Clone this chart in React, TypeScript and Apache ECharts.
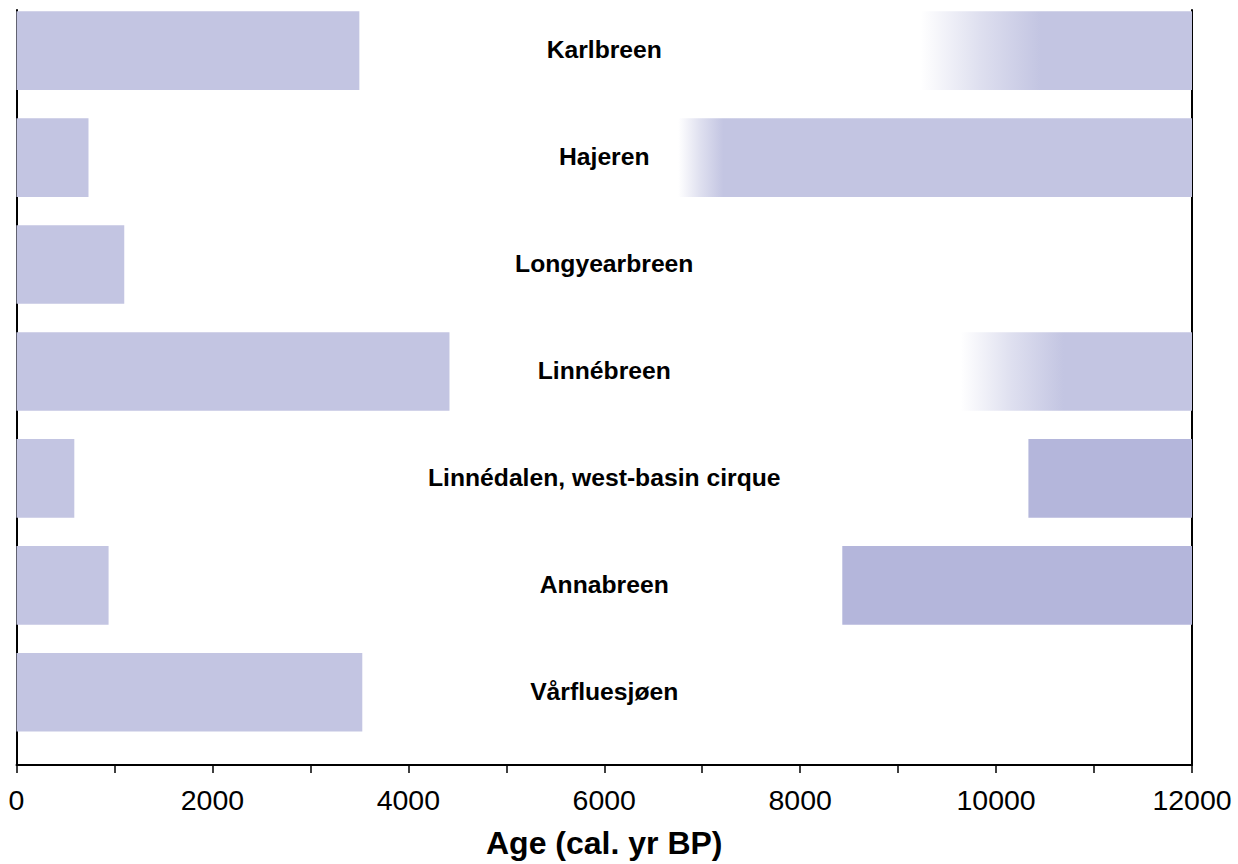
import React, { useEffect, useRef } from "react";
import * as echarts from "echarts";

const sites = [
  "Karlbreen",
  "Hajeren",
  "Longyearbreen",
  "Linnébreen",
  "Linnédalen, west-basin cirque",
  "Annabreen",
  "Vårfluesjøen",
];
// Late-Holocene glacier presence: from 0 to this age (cal. yr BP)
const recentEnd = [3500, 735, 1100, 4420, 590, 940, 3530];
// Early-Holocene / deglacial presence: fade start, solid start, up to axis max
const earlyFadeStart: (number | null)[] = [9230, 6755, null, 9640, null, null, null];
const earlySolidStart: (number | null)[] = [10450, 7215, null, 10690, 10330, 8430, null];
const earlyShade: (number | null)[] = [0, 0, null, 0, 1, 1, null];
const xTicks = [0, 2000, 4000, 6000, 8000, 10000, 12000];
const ageMax = 12000;
const labelAge = 6000;

const COLORS = ["#c3c5e2", "#b4b6db"];

export default function App() {
  const ref = useRef<HTMLDivElement>(null);
  useEffect(() => {
    if (!ref.current) return;
    const chart = echarts.init(ref.current, undefined, { renderer: "svg" });

    // segments: [start, end, row, solidStart, shade]
    const segments: number[][] = [];
    sites.forEach((_, i) => {
      segments.push([0, recentEnd[i], i, 0, 0]);
      const solid = earlySolidStart[i];
      if (solid != null) {
        const fade = earlyFadeStart[i];
        segments.push([fade != null ? fade : solid, ageMax, i, solid, earlyShade[i] as number]);
      }
    });
    const labels = sites.map((s, i) => [labelAge, i]);

    const yAxisBase = {
      type: "value",
      min: -0.38,
      max: 6.68,
      inverse: true,
      axisLine: { show: true, onZero: false, lineStyle: { color: "#000", width: 2 } },
      axisTick: { show: false },
      axisLabel: { show: false },
      splitLine: { show: false },
    };

    chart.setOption({
      animation: false,
      grid: { left: 16.5, right: 46, top: 10, bottom: 93 },
      xAxis: {
        type: "value",
        min: 0,
        max: ageMax,
        interval: 1000,
        position: "bottom",
        axisLine: { show: true, onZero: false, lineStyle: { color: "#000", width: 2 } },
        axisTick: { show: true, length: 8, lineStyle: { color: "#000", width: 1.5 } },
        axisLabel: {
          fontSize: 28.5,
          color: "#000",
          fontFamily: "Liberation Sans",
          margin: 20,
          formatter: (v: number) => (xTicks.indexOf(v) >= 0 ? String(v) : ""),
        },
        splitLine: { show: false },
        name: "Age (cal. yr BP)",
        nameLocation: "middle",
        nameGap: 62,
        nameTextStyle: {
          fontSize: 32,
          fontWeight: "bold",
          color: "#000",
          fontFamily: "Liberation Sans",
        },
      },
      yAxis: [
        { ...yAxisBase, position: "left" },
        { ...yAxisBase, position: "right" },
      ],
      series: [
        {
          type: "custom",
          data: segments,
          encode: { x: [0, 1, 3], y: 2 },
          renderItem: (params: any, api: any) => {
            const start = api.value(0);
            const end = api.value(1);
            const row = api.value(2);
            const solid = api.value(3);
            const shade = api.value(4);
            const p0 = api.coord([start, row]);
            const p1 = api.coord([end, row]);
            const ps = api.coord([solid, row]);
            const h = api.size([0, 0.735])[1];
            const color = COLORS[shade];
            let fill: any = color;
            if (solid > start) {
              const off = Math.min(1, Math.max(0, (ps[0] - p0[0]) / (p1[0] - p0[0])));
              fill = new echarts.graphic.LinearGradient(0, 0, 1, 0, [
                { offset: 0, color: "rgba(195,197,226,0)" },
                { offset: off * 0.5, color: "rgba(195,197,226,0.55)" },
                { offset: off, color },
                { offset: 1, color },
              ]);
            }
            return {
              type: "rect",
              shape: { x: p0[0], y: p0[1] - h / 2, width: p1[0] - p0[0], height: h },
              style: { fill },
            };
          },
        },
        {
          type: "custom",
          data: labels,
          encode: { x: 0, y: 1 },
          renderItem: (params: any, api: any) => {
            const p = api.coord([api.value(0), api.value(1)]);
            return {
              type: "text",
              x: p[0],
              y: p[1] - 1,
              style: {
                text: sites[params.dataIndex],
                fontSize: 24.7,
                fontWeight: "bold",
                fontFamily: "Liberation Sans",
                fill: "#000",
                align: "center",
                verticalAlign: "middle",
              },
            };
          },
        },
      ],
    });
    return () => chart.dispose();
  }, []);
  return (
    <div
      ref={ref}
      style={{ position: "fixed", left: 0, top: 0, width: 1238, height: 864, background: "#fff" }}
    />
  );
}
